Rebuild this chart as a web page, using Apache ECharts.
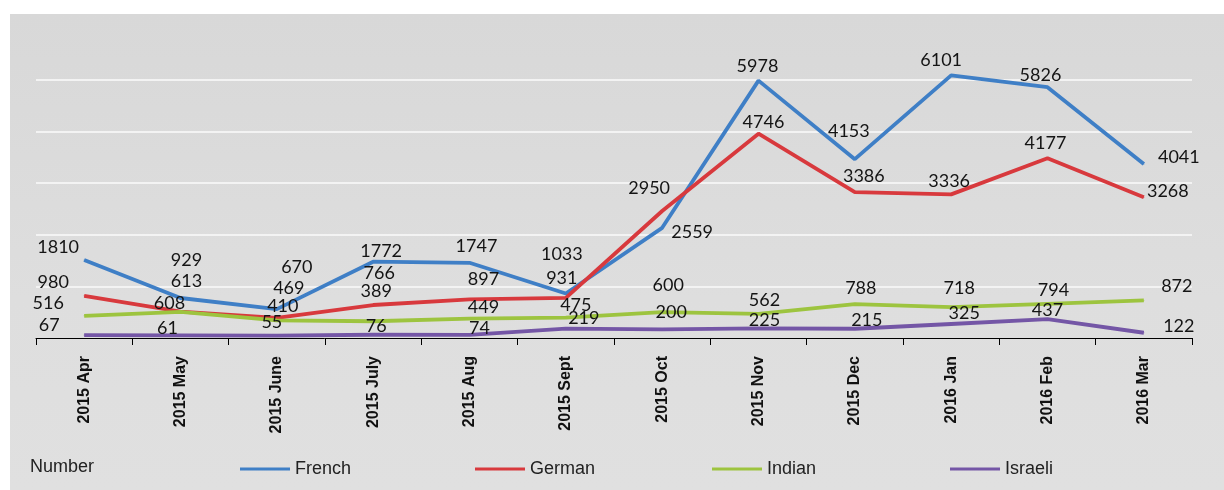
<!DOCTYPE html>
<html><head><meta charset="utf-8">
<script src="https://cdn.jsdelivr.net/npm/echarts@6/dist/echarts.min.js"></script>
<style>
html,body{margin:0;padding:0;background:#fff;width:1224px;height:490px;overflow:hidden}
#panel{position:absolute;left:10px;top:14px;width:1214px;height:476px;background:linear-gradient(#d8d8d8,#dedede 60%,#e0e0e0)}
#chart{position:absolute;left:0;top:0;width:1224px;height:490px}
</style></head><body>
<div id="panel"></div><div id="chart"></div>
<script>
const categories = ['2015 Apr','2015 May','2015 June','2015 July','2015 Aug','2015 Sept','2015 Oct','2015 Nov','2015 Dec','2016 Jan','2016 Feb','2016 Mar'];
const french  = [1810, 929, 670, 1772, 1747, 1033, 2559, 5978, 4153, 6101, 5826, 4041];
const german  = [980, 613, 469, 766, 897, 931, 2950, 4746, 3386, 3336, 4177, 3268];
const indian  = [516, 608, 410, 389, 449, 475, 600, 562, 788, 718, 794, 872];
const israeli = [67, 61, 55, 76, 74, 219, 200, 225, 215, 325, 437, 122];
const seriesNames = ['French','German','Indian','Israeli'];
const yTicks = [0, 1200, 2400, 3600, 4800, 6000, 7200];

// label offsets (styling only)
const frenchLabelOffsets  = [[-26,2],[6,-23],[20,-27],[8,4],[7,-2],[-4,-25],[30,19],[-1,0],[-6,-14],[-10,-1],[-7,3],[35,8]];
const germanLabelOffsets  = [[-31,1],[6,-16],[12,-15],[6,-17],[14,-6],[-4,-5],[-13,-8],[5,3],[9,-2],[-2,1],[-2,0],[24,8]];
const indianLabelOffsets  = [[-36,2],[-11,6],[6,0],[3,-16],[14,3],[10,2],[6,-12],[6,1],[6,-1],[8,-4],[6,1],[33,0]];
const israeliLabelOffsets = [[-35,5],[-13,7],[-5,1],[3,6],[10,8],[18,4],[9,-3],[6,6],[12,6],[13,4],[0,6],[35,8]];

const colors = ['#3f7fc6', '#d8393d', '#9dc43f', '#7456a6'];
const values = [french, german, indian, israeli];
const offsets = [frenchLabelOffsets, germanLabelOffsets, indianLabelOffsets, israeliLabelOffsets];
const legendLefts = [235, 470, 707, 945];

const chart = echarts.init(document.getElementById('chart'), null, {renderer: 'canvas'});

const series = seriesNames.map((name, k) => ({
  name: name,
  type: 'line',
  symbol: 'circle',
  symbolSize: 1,
  showSymbol: true,
  z: 2 + k,
  lineStyle: {width: 3.8, color: colors[k]},
  itemStyle: {color: colors[k]},
  label: {
    show: true, position: 'top', distance: 5,
    fontFamily: 'Lato', fontSize: 18, color: '#141414'
  },
  emphasis: {disabled: true},
  data: values[k].map((v, i) => ({value: v, label: {offset: offsets[k][i]}}))
}));

const option = {
  backgroundColor: 'transparent',
  animation: false,
  grid: {left: 36, right: 32, top: 28, bottom: 152, containLabel: false},
  xAxis: {
    type: 'category',
    data: categories,
    boundaryGap: true,
    axisLine: {show: true, lineStyle: {color: '#000', width: 1}},
    axisTick: {show: true, length: 7, lineStyle: {color: '#000'}},
    axisLabel: {
      interval: 0, rotate: 90, margin: 18,
      fontFamily: 'Liberation Sans', fontWeight: 'bold', fontSize: 16, color: '#111'
    },
    splitLine: {show: false}
  },
  yAxis: {
    type: 'value',
    min: yTicks[0], max: yTicks[yTicks.length - 1], interval: yTicks[1] - yTicks[0],
    axisLine: {show: false}, axisTick: {show: false}, axisLabel: {show: false},
    splitLine: {show: true, lineStyle: {width: 2, color: yTicks.map((t, i) => (i === 0 || i === yTicks.length - 1) ? 'rgba(0,0,0,0)' : '#f3f3f3')}}
  },
  legend: seriesNames.map((n, k) => ({
    data: [n], left: legendLefts[k], top: 455,
    icon: 'rect', itemWidth: 50, itemHeight: 3,
    textStyle: {fontFamily: 'Liberation Sans', fontSize: 18, color: '#222'},
    selectedMode: false
  })),
  graphic: [{
    type: 'text', left: 30, top: 458,
    style: {text: 'Number', font: '18px "Liberation Sans"', fill: '#222'}
  }],
  series: series
};
chart.setOption(option);
</script>
</body></html>
